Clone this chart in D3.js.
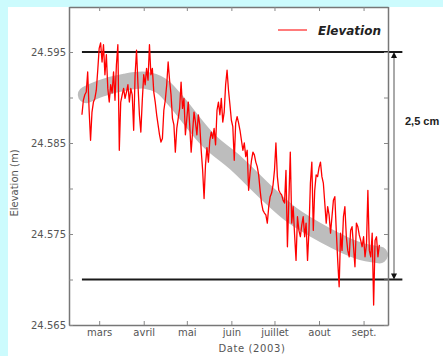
<!DOCTYPE html>
<html><head><meta charset="utf-8">
<script src="https://cdn.jsdelivr.net/npm/d3@7"></script>
<style>body{margin:0;background:#fff}svg{display:block}</style>
</head><body>
<svg id="c" width="443" height="356"></svg>
<script>
// ---------- DATA ----------
const startDate = new Date(2003, 1, 17); // daily series start
const elevation = [
24.5881,24.5897,24.5903,24.5906,24.5928,24.5886,24.5853,24.5884,24.5895,24.5899,
24.5908,24.5930,24.5954,24.5960,24.5939,24.5958,24.5925,24.5947,24.5910,24.5895,
24.5914,24.5905,24.5928,24.5897,24.5936,24.5958,24.5842,24.5895,24.5903,24.5910,
24.5899,24.5906,24.5914,24.5895,24.5910,24.5903,24.5864,24.5925,24.5952,24.5914,
24.5881,24.5862,24.5897,24.5925,24.5914,24.5932,24.5919,24.5958,24.5925,24.5932,
24.5906,24.5895,24.5881,24.5870,24.5859,24.5851,24.5855,24.5886,24.5897,24.5914,
24.5939,24.5919,24.5903,24.5877,24.5870,24.5840,24.5866,24.5877,24.5888,24.5917,
24.5888,24.5899,24.5859,24.5877,24.5895,24.5870,24.5840,24.5862,24.5884,24.5873,
24.5859,24.5881,24.5870,24.5842,24.5820,24.5789,24.5826,24.5845,24.5829,24.5853,
24.5862,24.5855,24.5866,24.5848,24.5886,24.5895,24.5881,24.5899,24.5873,24.5884,
24.5914,24.5930,24.5908,24.5892,24.5875,24.5868,24.5831,24.5872,24.5879,24.5872,
24.5864,24.5853,24.5842,24.5850,24.5835,24.5842,24.5798,24.5817,24.5831,24.5840,
24.5837,24.5829,24.5824,24.5815,24.5798,24.5784,24.5776,24.5773,24.5771,24.5762,
24.5780,24.5791,24.5795,24.5804,24.5820,24.5850,24.5813,24.5798,24.5795,24.5793,
24.5787,24.5784,24.5820,24.5736,24.5787,24.5840,24.5762,24.5780,24.5749,24.5721,
24.5769,24.5754,24.5747,24.5760,24.5769,24.5747,24.5762,24.5721,24.5754,24.5806,
24.5829,24.5754,24.5798,24.5815,24.5813,24.5823,24.5829,24.5813,24.5806,24.5784,
24.5762,24.5780,24.5771,24.5751,24.5769,24.5787,24.5791,24.5754,24.5721,24.5692,
24.5751,24.5732,24.5769,24.5780,24.5747,24.5732,24.5725,24.5754,24.5758,24.5736,
24.5714,24.5762,24.5758,24.5749,24.5743,24.5736,24.5747,24.5725,24.5738,24.5798,
24.5732,24.5725,24.5751,24.5672,24.5743,24.5747,24.5725,24.5738
];
const trendDates = ["2003-02-20","2003-03-02","2003-03-19","2003-04-02","2003-04-13","2003-04-23",
  "2003-05-16","2003-06-04","2003-06-25","2003-07-13","2003-08-05","2003-08-28","2003-09-12"];
const trendValues = [24.5903,24.5910,24.5917,24.5919,24.5913,24.5897,
  24.5853,24.5828,24.5796,24.5771,24.5749,24.5732,24.5727];
const monthTicks = ["2003-03-01","2003-04-01","2003-05-01","2003-06-01","2003-07-01","2003-08-01","2003-09-01"];
const monthLabels = ["mars","avril","mai","juin","juillet","aout","sept."];
const yTicks = [24.565,24.570,24.575,24.580,24.585,24.590,24.595];
const yTickLabels = ["24.565","","24.575","","24.585","","24.595"];
const refHigh = 24.595, refLow = 24.570;
const refStart = "2003-02-17", refEnd = "2003-09-28";
const seriesName = "Elevation";
const rangeLabel = "2,5 cm";

// ---------- CHART ----------
const parse = d3.timeParse("%Y-%m-%d");
const svg = d3.select("#c");
const font = "DejaVu Sans, Liberation Sans, sans-serif";
svg.append("rect").attr("width",443).attr("height",356).attr("fill","#fff");
svg.append("rect").attr("width",443).attr("height",7).attr("fill","#ccfbfd");
svg.append("rect").attr("width",8).attr("height",356).attr("fill","#ccfbfd");

const x = d3.scaleTime().domain([new Date(2003,1,8), new Date(2003,8,18)]).range([69,388]);
const y = d3.scaleLinear().domain([24.565,24.600]).range([325,6.5]);

// trend band
const trend = trendDates.map((d,i)=>({date:parse(d), v:trendValues[i]}));
svg.append("path").datum(trend)
  .attr("d", d3.line().x(d=>x(d.date)).y(d=>y(d.v)).curve(d3.curveCatmullRom))
  .attr("fill","none").attr("stroke","#bdbdbd").attr("stroke-width",17)
  .attr("stroke-linecap","round").attr("stroke-linejoin","round");

// reference lines
[refHigh, refLow].forEach(v=>{
  svg.append("line").attr("x1",x(parse(refStart))).attr("x2",x(parse(refEnd)))
    .attr("y1",y(v)).attr("y2",y(v)).attr("stroke","#1a1a1a").attr("stroke-width",2);
});

// elevation series
const series = elevation.map((v,i)=>({date:d3.timeDay.offset(startDate,i), v}));
svg.append("path").datum(series)
  .attr("d", d3.line().x(d=>x(d.date)).y(d=>y(d.v)))
  .attr("fill","none").attr("stroke","#ff0000").attr("stroke-width",1.3)
  .attr("stroke-linejoin","round");

// axes
function styleAxis(g){
  g.select(".domain").attr("stroke","#777").attr("stroke-width",1.5);
  g.selectAll(".tick line").attr("stroke","#888");
  g.selectAll("text").attr("fill","#555").attr("font-family",font).attr("font-size",10);
}
const mt = monthTicks.map(parse);
svg.append("g").attr("transform","translate(0,325)")
  .call(d3.axisBottom(x).tickValues(mt).tickFormat((d,i)=>monthLabels[i]).tickSizeInner(-4).tickSizeOuter(0).tickPadding(4))
  .call(styleAxis);
svg.append("g").attr("transform","translate(0,7)")
  .call(d3.axisTop(x).tickValues(mt).tickFormat("").tickSizeInner(-4).tickSizeOuter(0))
  .call(styleAxis);
svg.append("g").attr("transform","translate(69,0)")
  .call(d3.axisLeft(y).tickValues(yTicks).tickFormat((d,i)=>yTickLabels[i]).tickSizeInner(-4).tickSizeOuter(0).tickPadding(3))
  .call(styleAxis);
svg.append("g").attr("transform","translate(388,0)")
  .call(d3.axisRight(y).tickValues(yTicks).tickFormat("").tickSizeInner(-4).tickSizeOuter(0))
  .call(styleAxis);

// axis titles
svg.append("text").attr("x",252).attr("y",352).attr("text-anchor","middle")
  .attr("font-family",font).attr("font-size",10).attr("fill","#555").attr("letter-spacing",0.6)
  .text("Date (2003)");
svg.append("text").attr("transform","translate(18,183) rotate(-90)").attr("text-anchor","middle")
  .attr("font-family",font).attr("font-size",10).attr("fill","#555")
  .text("Elevation (m)");

// legend
svg.append("line").attr("x1",278).attr("x2",307).attr("y1",30).attr("y2",30)
  .attr("stroke","#ff3333").attr("stroke-width",1.3);
svg.append("text").attr("x",318).attr("y",35).attr("font-family",font)
  .attr("font-size",12).attr("font-weight","bold").attr("font-style","italic").attr("fill","#222")
  .text(seriesName);

// range arrow
const ax = 394, yTop = y(refHigh), yBot = y(refLow);
svg.append("line").attr("x1",ax).attr("x2",ax).attr("y1",yTop+5).attr("y2",yBot-5)
  .attr("stroke","#555").attr("stroke-width",1);
svg.append("path").attr("d",`M${ax},${yTop} L${ax-3},${yTop+6} L${ax+3},${yTop+6} Z`).attr("fill","#111");
svg.append("path").attr("d",`M${ax},${yBot} L${ax-3},${yBot-6} L${ax+3},${yBot-6} Z`).attr("fill","#111");
svg.append("text").attr("x",405).attr("y",125).attr("font-family","Liberation Sans, Arial, sans-serif")
  .attr("font-size",11).attr("font-weight","bold").attr("fill","#222").text(rangeLabel);
</script>
</body></html>
